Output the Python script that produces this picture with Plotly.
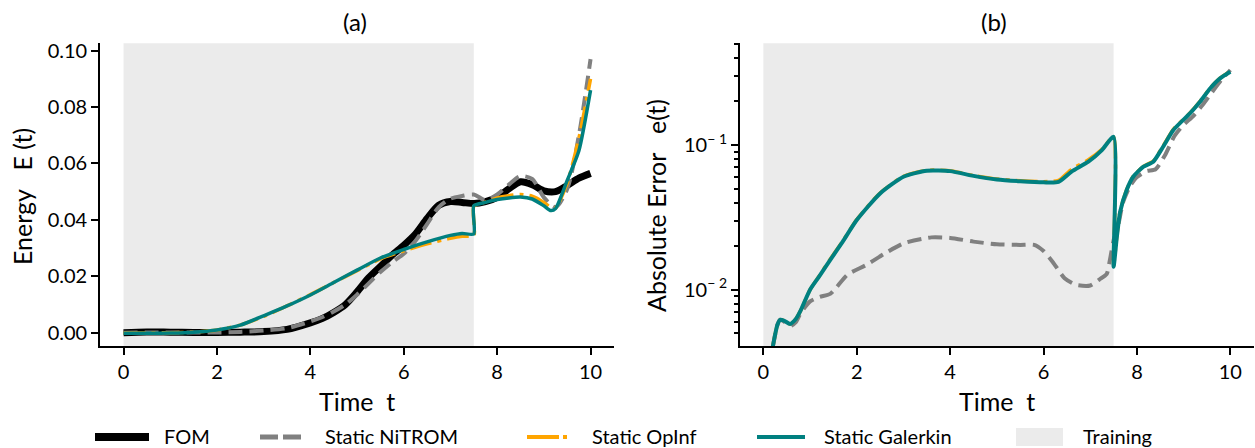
import plotly.graph_objects as go

# ---------------- data ----------------
# Panel (a): energy E(t)
t_fom = [0, 0.5, 1, 1.5, 2, 2.5, 3, 3.5, 4, 4.25, 4.5, 4.75, 5, 5.25, 5.5, 5.75, 6, 6.25,
         6.5, 6.75, 7, 7.25, 7.5, 7.75, 8, 8.25, 8.5, 8.75, 9, 9.25, 9.5, 9.75, 10]
e_fom = [0.0000, 0.0003, 0.0002, 0.0001, 0.0001, 0.0002, 0.0004, 0.0012, 0.0035, 0.0050,
         0.0072, 0.0100, 0.0145, 0.0195, 0.0235, 0.0275, 0.0310, 0.0350, 0.0405, 0.0452,
         0.0465, 0.0462, 0.0458, 0.0465, 0.0480, 0.0510, 0.0535, 0.0525, 0.0503, 0.0500,
         0.0522, 0.0548, 0.0565]
e_nitrom = [0.0000, 0.0001, 0.0001, 0.0001, 0.0001, 0.0003, 0.0008, 0.0016, 0.0040, 0.0055,
            0.0075, 0.0100, 0.0135, 0.0175, 0.0215, 0.0250, 0.0280, 0.0325, 0.0385, 0.0445,
            0.0475, 0.0485, 0.0490, 0.0470, 0.0490, 0.0525, 0.0555, 0.0545, 0.0480, 0.0445,
            0.0510, 0.0700, 0.0970]

t_rom = [0, 0.5, 1, 1.5, 2, 2.5, 3, 3.5, 4, 4.5, 5, 5.5, 6, 6.5, 7, 7.25, 7.5,
         7.5, 7.75, 8, 8.25, 8.5, 8.75, 9, 9.15, 9.25, 9.5, 9.75, 10]
e_galerkin = [-0.0002, -0.0002, -0.0001, 0.0002, 0.0010, 0.0027, 0.0060, 0.0095, 0.0134,
              0.0178, 0.0222, 0.0265, 0.0295, 0.0322, 0.0345, 0.0352, 0.0350,
              0.0450, 0.0462, 0.0472, 0.0478, 0.0481, 0.0474, 0.0450, 0.0433, 0.0440,
              0.0540, 0.0645, 0.0860]
e_opinf = [-0.0001, -0.0001, 0.0000, 0.0002, 0.0010, 0.0027, 0.0058, 0.0095, 0.0135,
           0.0178, 0.0220, 0.0262, 0.0290, 0.0315, 0.0335, 0.0342, 0.0345,
           0.0448, 0.0463, 0.0478, 0.0486, 0.0490, 0.0484, 0.0462, 0.0443, 0.0442,
           0.0530, 0.0690, 0.0900]

# Panel (b): absolute error e(t)
t_err = [0.2, 0.3, 0.36, 0.45, 0.57, 0.7, 0.8, 1.0, 1.2, 1.44, 1.7, 2.0, 2.5, 3.0, 3.5, 4.0,
         4.5, 5.0, 5.5, 6.0, 6.32, 6.6, 6.96, 7.25, 7.5, 7.5, 7.57, 7.64, 7.78, 7.92, 8.14,
         8.35, 8.56, 8.78, 9.14, 9.35, 9.57, 9.78, 10.0]
err_galerkin = [0.0040, 0.0057, 0.0062, 0.0061, 0.0058, 0.0063, 0.0072, 0.0100, 0.0124, 0.0162,
                0.0215, 0.0303, 0.0463, 0.0604, 0.0665, 0.0660, 0.0612, 0.0578, 0.0562, 0.0552,
                0.0556, 0.0655, 0.0767, 0.0923, 0.1140, 0.0144, 0.0232, 0.0346, 0.0489, 0.0604,
                0.0708, 0.0767, 0.0973, 0.1270, 0.1660, 0.1990, 0.2470, 0.2890, 0.3210]
err_opinf = [0.0040, 0.0057, 0.0062, 0.0061, 0.0058, 0.0063, 0.0072, 0.0100, 0.0125, 0.0164,
             0.0217, 0.0305, 0.0466, 0.0607, 0.0668, 0.0664, 0.0616, 0.0582, 0.0566, 0.0558,
             0.0570, 0.0680, 0.0790, 0.0935, 0.1140, 0.0146, 0.0235, 0.0350, 0.0492, 0.0608,
             0.0712, 0.0775, 0.0985, 0.1285, 0.1670, 0.2000, 0.2480, 0.2900, 0.3230]

t_err_nit = [0.2, 0.3, 0.36, 0.45, 0.57, 0.7, 0.8, 1.0, 1.2, 1.44, 1.8, 2.2, 2.6, 3.0, 3.6,
             4.0, 4.5, 5.0, 5.5, 5.8, 6.0, 6.2, 6.45, 6.7, 7.0, 7.2, 7.35, 7.42, 7.5, 7.6,
             7.7, 7.85, 8.0, 8.2, 8.4, 8.6, 8.8, 9.0, 9.2, 9.4, 9.6, 9.8, 10.0]
err_nitrom = [0.0040, 0.0057, 0.0062, 0.0060, 0.0056, 0.0060, 0.0069, 0.0083, 0.0089, 0.0094,
              0.0127, 0.0148, 0.0178, 0.0209, 0.0230, 0.0228, 0.0215, 0.0206, 0.0204, 0.0204,
              0.0185, 0.0155, 0.0120, 0.0108, 0.0107, 0.0118, 0.0128, 0.0160, 0.0220, 0.0280,
              0.0400, 0.0520, 0.0600, 0.0660, 0.0680, 0.0850, 0.1150, 0.1380, 0.1580, 0.1880,
              0.2300, 0.2800, 0.3300]

training_end = 7.5
x_ticks = [0, 2, 4, 6, 8, 10]
y_ticks_a = [0.00, 0.02, 0.04, 0.06, 0.08, 0.10]
y_ticks_b = [0.01, 0.1]
y_ticktext_b = ["10<sup>\u2212 2</sup>", "10<sup>\u2212 1</sup>"]
y_minor_b = [0.004, 0.005, 0.006, 0.007, 0.008, 0.009,
             0.02, 0.03, 0.04, 0.05, 0.06, 0.07, 0.08, 0.09, 0.2, 0.3, 0.4, 0.5]

legend_names = ["FOM", "Static NiTROM", "Static OpInf", "Static Galerkin", "Training"]

# ---------------- styles ----------------
FONT = "Lato"
BLACK = "#000000"
GREY = "#808080"
ORANGE = "#FFA500"
TEAL = "#008080"
SHADE = "#ebebeb"
W, H = 1255, 448

NIT_DASH = "14px,7px"
OPI_DASH = "22px,6px,4px,6px"

fig = go.Figure()

# panel (a)
fig.add_trace(go.Scatter(x=t_fom, y=e_fom, mode="lines", xaxis="x", yaxis="y",
                         line=dict(color=BLACK, width=7, shape="spline", smoothing=0.8),
                         showlegend=False))
fig.add_trace(go.Scatter(x=t_fom, y=e_nitrom, mode="lines", xaxis="x", yaxis="y",
                         line=dict(color=GREY, width=4, dash=NIT_DASH, shape="spline", smoothing=0.8),
                         showlegend=False))
fig.add_trace(go.Scatter(x=t_rom, y=e_opinf, mode="lines", xaxis="x", yaxis="y",
                         line=dict(color=ORANGE, width=3.5, dash=OPI_DASH, shape="spline", smoothing=0.6),
                         showlegend=False))
fig.add_trace(go.Scatter(x=t_rom, y=e_galerkin, mode="lines", xaxis="x", yaxis="y",
                         line=dict(color=TEAL, width=3.5, shape="spline", smoothing=0.6),
                         showlegend=False))

# panel (b)
fig.add_trace(go.Scatter(x=t_err_nit, y=err_nitrom, mode="lines", xaxis="x2", yaxis="y2",
                         line=dict(color=GREY, width=4, dash=NIT_DASH, shape="spline", smoothing=0.6),
                         showlegend=False))
fig.add_trace(go.Scatter(x=t_err, y=err_opinf, mode="lines", xaxis="x2", yaxis="y2",
                         line=dict(color=ORANGE, width=3.5, dash=OPI_DASH, shape="spline", smoothing=0.6),
                         showlegend=False))
fig.add_trace(go.Scatter(x=t_err, y=err_galerkin, mode="lines", xaxis="x2", yaxis="y2",
                         line=dict(color=TEAL, width=4, shape="spline", smoothing=0.6),
                         showlegend=False))

# training shading
for xr, yr in (("x", "y domain"), ("x2", "y2 domain")):
    fig.add_shape(type="rect", xref=xr, yref=yr, x0=0, x1=training_end, y0=0, y1=1,
                  fillcolor=SHADE, line=dict(width=0), layer="below")

axis_common = dict(showline=True, linecolor=BLACK, linewidth=2, ticks="outside",
                   ticklen=7, tickwidth=2, tickcolor=BLACK, showgrid=False, zeroline=False,
                   tickfont=dict(family=FONT, size=20, color=BLACK), mirror=False,
                   automargin=False)

ydom = [1 - 346 / H, 1 - 43.3 / H]
fig.update_layout(
    template="none",
    width=W, height=H, margin=dict(l=0, r=0, t=0, b=0, pad=0, autoexpand=False),
    paper_bgcolor="white", plot_bgcolor="white", showlegend=False,
    font=dict(family=FONT, color=BLACK),
    xaxis=dict(domain=[100.2 / W, 613.9 / W], range=[-0.5, 10.5], tickvals=x_ticks,
               anchor="y", **axis_common),
    yaxis=dict(domain=ydom, range=[-0.0047, 0.1026], tickvals=y_ticks_a, tickformat=".2f",
               anchor="x", **axis_common),
    xaxis2=dict(domain=[740 / W, 1253.7 / W], range=[-0.5, 10.5], tickvals=x_ticks,
                anchor="y2", **axis_common),
    yaxis2=dict(domain=ydom, type="log", range=[-2.389, -0.297], tickvals=y_ticks_b,
                ticktext=y_ticktext_b, anchor="x2",
                minor=dict(tickvals=y_minor_b, ticks="outside", ticklen=4, tickwidth=1.5,
                           tickcolor=BLACK, showgrid=False),
                **axis_common),
)

def ann(text, x, y, size, angle=0, xanchor="center", yanchor="middle"):
    fig.add_annotation(text=text, x=x / W, y=1 - y / H, xref="paper", yref="paper",
                       showarrow=False, textangle=angle, xanchor=xanchor, yanchor=yanchor,
                       font=dict(family=FONT, size=size, color=BLACK))

NB = "\u00a0"
ann("(a)", 355, 21, 24)
ann("(b)", 994, 21, 24)
ann("Time" + NB * 2 + "t", 357, 401, 25)
ann("Time" + NB * 2 + "t", 997, 401, 25)
ann("Energy" + NB * 3 + "E" + NB + "(t)", 22, 197, 25, angle=-90)
ann("Absolute" + NB + "Error" + NB * 3 + "e(t)", 656, 206, 25, angle=-90)

# legend (manual, positioned like the reference)
ly = 436
def pline(x0, x1, color, width, dash="solid"):
    fig.add_shape(type="line", xref="paper", yref="paper", x0=x0 / W, x1=x1 / W,
                  y0=1 - (ly + 1) / H, y1=1 - (ly + 1) / H,
                  line=dict(color=color, width=width, dash=dash))

pline(95, 149, BLACK, 8)
pline(260, 301, GREY, 5, "18px,5px")
pline(527, 568, ORANGE, 4, "32px,4px,4px,4px")
pline(757, 805, TEAL, 4)
fig.add_shape(type="rect", xref="paper", yref="paper", x0=1016 / W, x1=1063 / W,
              y0=1 - 446 / H, y1=1 - 428 / H, fillcolor=SHADE, line=dict(width=0))
for name, xt in zip(legend_names, [162, 323, 590, 822, 1081]):
    ann(name, xt, ly, 20, xanchor="left")

fig.write_html("out.html")
